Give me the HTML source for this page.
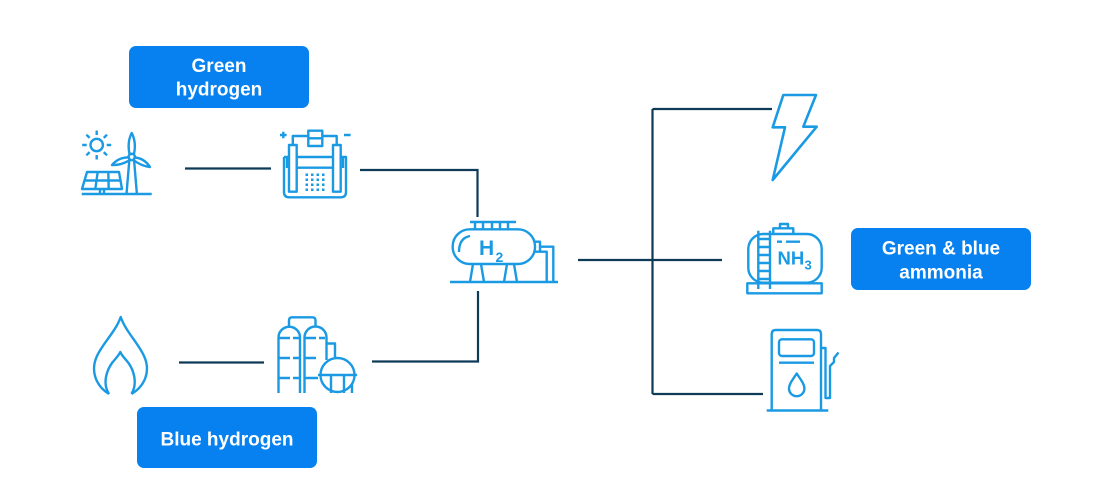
<!DOCTYPE html>
<html><head><meta charset="utf-8"><style>
html,body{margin:0;padding:0;background:#fff;}
svg{display:block;}
</style></head><body>
<svg width="1110" height="503" viewBox="0 0 1110 503" xmlns="http://www.w3.org/2000/svg">
<rect width="1110" height="503" fill="#fff"/>
<!-- connectors -->
<g stroke="#0d3a57" stroke-width="2.2" fill="none">
<path d="M185,168.5 H271"/>
<path d="M360,170 H477.5 V217"/>
<path d="M179,362.5 H264"/>
<path d="M372,361.5 H478 V291"/>
<path d="M578,260 H722"/>
<path d="M652.5,109 V394"/>
<path d="M652.5,109 H772"/>
<path d="M652.5,394 H763"/>
</g>
<!-- boxes -->
<g font-family="'Liberation Sans', Arial, sans-serif" font-weight="bold" font-size="19" fill="#fff" text-anchor="middle">
<rect x="129" y="46" width="180" height="62" rx="7" fill="#0781f0"/>
<text x="219" y="72">Green</text>
<text x="219" y="95.5">hydrogen</text>
<rect x="137" y="407" width="180" height="61" rx="7" fill="#0781f0"/>
<text x="227" y="445.5">Blue hydrogen</text>
<rect x="851" y="228" width="180" height="62" rx="7" fill="#0781f0"/>
<text x="941" y="254.5">Green &amp; blue</text>
<text x="941" y="278.5">ammonia</text>
</g>
<g stroke="#1b9ae4" stroke-width="2.4" fill="none" stroke-linejoin="round">
<!-- sun -->
<circle cx="96.7" cy="145" r="6.2"/>
<path d="M96.7,130.5 V135 M96.7,155 V159.5 M82.2,145 H86.7 M106.7,145 H111.2 M86.4,134.7 L89.6,137.9 M103.8,152.1 L107,155.3 M107,134.7 L103.8,137.9 M89.6,152.1 L86.4,155.3"/>
<!-- solar panel -->
<path d="M87,172 H119 L122,189 H82 Z"/>
<path d="M97.7,172 L95.3,189 M108.3,172 L108.7,189 M84.5,180.5 H120.5"/>
<path d="M100,189 V194 M104,189 V194"/>
<path d="M81.7,194 H151.7"/>
<!-- wind turbine -->
<circle cx="131.7" cy="157" r="3.2"/>
<path d="M129.5,154 Q127,142 131.7,133 Q136.5,142 134,154 Z"/>
<path d="M128.8,157.5 Q119,157 112,165 Q121,165.5 130,160 Z"/>
<path d="M134.6,157.5 Q144,158 150,167 Q141,166 133.5,160 Z"/>
<path d="M129.3,160.5 L126.5,194 M134.1,160.5 L136.9,194"/>
<!-- electrolyzer -->
<path d="M280,135 H286.6 M283.3,131.7 V138.3 M344,135 H350.6"/>
<rect x="308.3" y="130.7" width="14" height="15.3"/>
<path d="M308.3,138.3 H322.3"/>
<path d="M308.3,136 H292.8 V145 M322.3,136 H336.7 V145"/>
<rect x="289" y="145" width="7.7" height="46.7"/>
<rect x="333" y="145" width="7.7" height="46.7"/>
<path d="M284,157 V192 Q284,197.3 289.3,197.3 H340.7 Q346,197.3 346,192 V157 H340.7 M289,157 H284 M296.7,157 H333 M296.7,167.7 H333 M287,157 V168 M343,157 V168"/>
<g stroke="none" fill="#1b9ae4">
<rect x="305.5" y="173.5" width="2.5" height="2.5"/><rect x="311" y="173.5" width="2.5" height="2.5"/><rect x="316.5" y="173.5" width="2.5" height="2.5"/><rect x="322" y="173.5" width="2.5" height="2.5"/>
<rect x="305.5" y="178.5" width="2.5" height="2.5"/><rect x="311" y="178.5" width="2.5" height="2.5"/><rect x="316.5" y="178.5" width="2.5" height="2.5"/><rect x="322" y="178.5" width="2.5" height="2.5"/>
<rect x="305.5" y="183.5" width="2.5" height="2.5"/><rect x="311" y="183.5" width="2.5" height="2.5"/><rect x="316.5" y="183.5" width="2.5" height="2.5"/><rect x="322" y="183.5" width="2.5" height="2.5"/>
<rect x="305.5" y="188.5" width="2.5" height="2.5"/><rect x="311" y="188.5" width="2.5" height="2.5"/><rect x="316.5" y="188.5" width="2.5" height="2.5"/><rect x="322" y="188.5" width="2.5" height="2.5"/>
</g>
<!-- flame -->
<path d="M109,394 C96,386 90,371 97,356 C103,343 116,331 120.7,317 C125.5,331 138,343 144,356 C151,371 145,386 131.5,394"/>
<path d="M109,394 C102,383 107,370 112,363 C115,359 118.5,356 120.3,352 C122,356 125.5,359 128.5,363 C133.5,370 138,383 131.5,394"/>
<!-- refinery -->
<path d="M278.5,393 V337.5 A10.75,10.75 0 0 1 300,337.5 V393"/>
<path d="M304.5,393 V337.5 A11,11 0 0 1 326.5,337.5 V360"/>
<path d="M289,327 V320.5 Q289,317.3 292.2,317.3 H312.3 Q315.5,317.3 315.5,320.5 V327"/>
<path d="M279,338 H290 M293,338 H299 M305,338 H316 M319,338 H325"/>
<path d="M279,358 H290 M293,358 H299 M305,358 H316"/>
<path d="M279,378 H290 M293,378 H299 M305,378 H318"/>
<path d="M326.5,343.5 H335 V357"/>
<circle cx="337.5" cy="375" r="17" fill="#fff"/>
<path d="M318,375 H357 M331,375 V393 M344,375 V393 M352,384 V393"/>
<!-- H2 tank -->
<path d="M470,222 H516 M475,222 V229 M483,222 V229 M492,222 V229 M500,222 V229 M508,222 V229"/>
<rect x="452.7" y="229.3" width="82.3" height="34.7" rx="17"/>
<path d="M459,252 Q459,238 470,236"/>
<path d="M535,241.7 H540 V251.7 H535"/>
<path d="M540,246.7 H553.3 V282 M540,251.7 H546.7 V282"/>
<path d="M470,282 L473,264 M481,264 L484,282 M504,282 L507,264 M514,264 L517,282"/>
<path d="M450,282 H558"/>
<!-- lightning -->
<path d="M783.3,95 H816 L803.3,126.7 H816.7 L772.7,180 L785,127.3 H772.7 Z" stroke-width="2.6"/>
<!-- NH3 tank -->
<rect x="748.3" y="234" width="73.4" height="48.7" rx="15" fill="#fff"/>
<path d="M773.3,234 V228.3 H793.3 V234 M780,228.3 V224 H788 V228.3"/>
<path d="M777,241.7 H782 M786,241.7 H800"/>
<path d="M758.3,230.7 V289 M770,230.7 V289"/>
<path d="M758.3,239 H770 M758.3,247 H770 M758.3,255 H770 M758.3,263 H770 M758.3,271 H770 M758.3,279 H770"/>
<rect x="747.3" y="283.3" width="74.4" height="10"/>
<!-- fuel pump -->
<path d="M771.7,410 V334 Q771.7,330 775.7,330 H817 Q821,330 821,334 V410"/>
<rect x="779" y="339.3" width="35" height="16.7" rx="3"/>
<path d="M779,362.7 H814"/>
<path d="M796.7,373.5 C792.5,380 789,384 789,388.5 A7.7,7.7 0 0 0 804.4,388.5 C804.4,384 801,380 796.7,373.5 Z"/>
<path d="M766.7,410.5 H828.3"/>
<path d="M821,348 H825.5 V398 H830 V366 L834,362 V358 L838.5,352.5"/>
</g>
<g font-family="'Liberation Sans', Arial, sans-serif" font-weight="bold" fill="#1b9ae4">
<text x="479" y="255" font-size="21">H</text>
<text x="495.5" y="262" font-size="14">2</text>
<text x="777.5" y="264.5" font-size="18.5">NH</text>
<text x="804.5" y="269.5" font-size="13">3</text>
</g>
</svg>
</body></html>
